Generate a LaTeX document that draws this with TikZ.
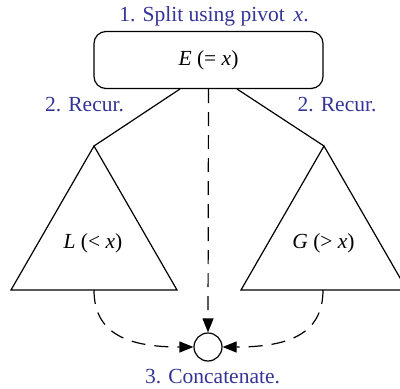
\documentclass[tikz,border=0pt]{standalone}
\usepackage{fontspec}
\setmainfont{Liberation Serif}
\usetikzlibrary{arrows.meta}
\definecolor{lbl}{RGB}{52,52,150}
\begin{document}
\begin{tikzpicture}[x=1pt,y=-1pt,
  every node/.style={font=\fontsize{21.5}{25}\selectfont, inner sep=0pt},
  lbltext/.style={text=lbl},
  solidln/.style={line width=1.2pt, line join=miter},
  dashln/.style={line width=1.2pt, dash pattern=on 14pt off 9pt, -{Triangle[length=14pt,width=11pt]}},
  box/.style={draw, line width=1.2pt, rounded corners=12pt, minimum width=229pt, minimum height=57pt},
  joincirc/.style={draw, circle, line width=1.2pt, minimum size=28pt}]
\useasboundingbox (0,0) rectangle (400,389);
\begin{scope}
\clip (0,0) rectangle (400,389);
\node[lbltext] (t1) at (214,16) {1. Split using pivot \,\textit{x}.};
\node[box] (E) at (208.5,60) {\textit{E} (= \textit{x})};
\node[lbltext] (r1) at (84.5,105) {2. Recur.};
\node[lbltext] (r2) at (337,105) {2. Recur.};
\coordinate (El) at (180,89);
\coordinate (Er) at (237,89);
\coordinate (La) at (94,146);
\coordinate (Ll) at (11,290);
\coordinate (Lr) at (177,290);
\coordinate (Lb) at (94,290);
\coordinate (Ga) at (324,146);
\coordinate (Gl) at (241,290);
\coordinate (Gr) at (407,290);
\coordinate (Gb) at (323,290);
\draw[solidln] (El) -- (La);
\draw[solidln] (Er) -- (Ga);
\draw[solidln] (La) -- (Ll) -- (Lr) -- cycle;
\draw[solidln] (Ga) -- (Gl) -- (Gr) -- cycle;
\node (L) at (93,243) {\textit{L} (< \textit{x})};
\node (G) at (323.5,243) {\textit{G} (> \textit{x})};
\node[joincirc] (C) at (208,347) {};
\node[lbltext] (t3) at (212.5,377) {3. Concatenate.};
\draw[dashln] (E.south) -- (C.north);
\draw[dashln] (Lb) .. controls (94,335) and (130,347) .. (C.west);
\draw[dashln] (Gb) .. controls (323,335) and (287,347) .. (C.east);
\end{scope}
\end{tikzpicture}
\end{document}
